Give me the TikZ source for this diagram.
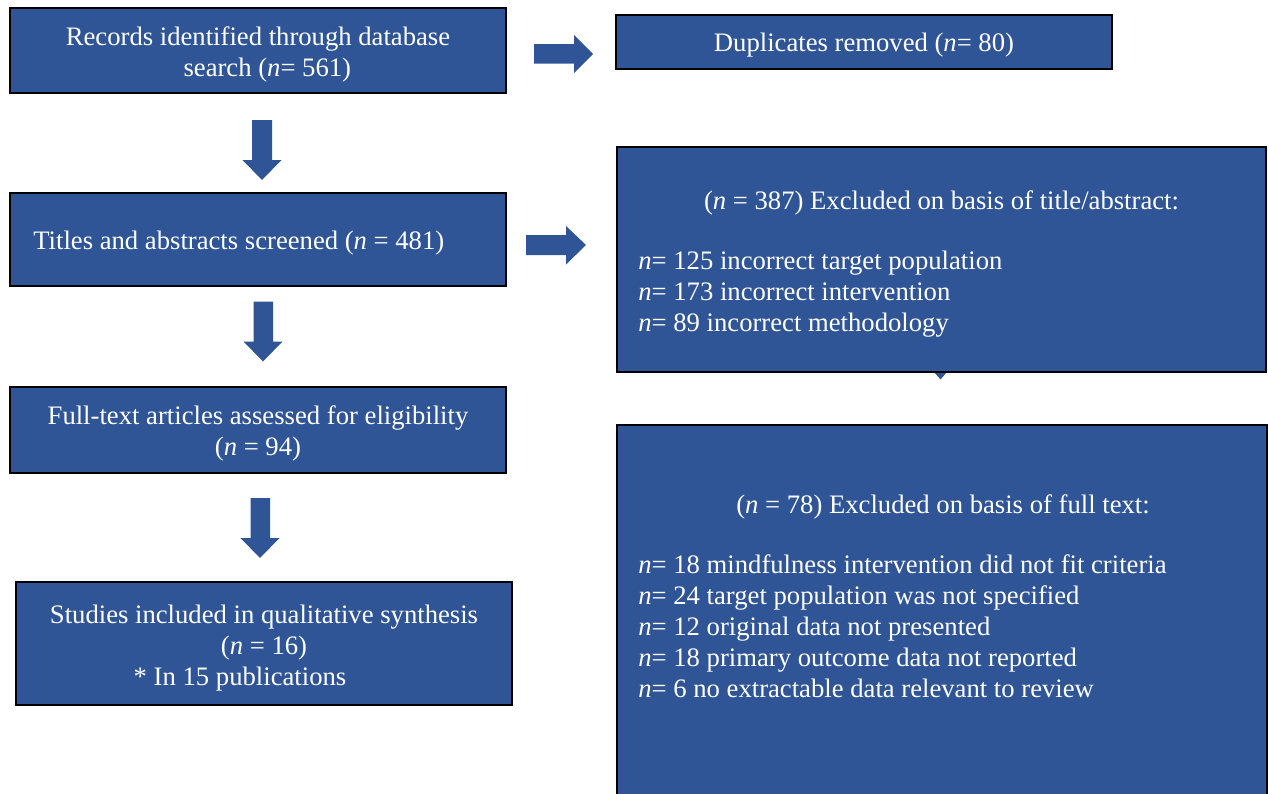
\documentclass[tikz,border=0pt]{standalone}
\usepackage{fontspec}
\setmainfont{Liberation Serif}
\definecolor{boxblue}{RGB}{47,85,151}

\tikzset{every picture/.style={line width=0.5pt}}
\tikzset{
  flowbox/.style={rectangle, draw=black, line width=1.7pt, fill=boxblue, inner sep=0pt},
  flowtext/.style={text=white, font=\fontsize{20}{23.25}\selectfont, inner sep=0pt},
  blockarrow/.style={fill=boxblue, draw=none},
}

\begin{document}
\begin{tikzpicture}[x=0.75pt,y=0.75pt,yscale=-1,xscale=1]
\useasboundingbox (0,0) rectangle (1268,793);

%Shape: Triangle (under the title/abstract box)
\draw [blockarrow] (934,372) -- (947,372) -- (940.5,379.5) -- cycle ;

%Shape: Rectangle (records)
\draw (258,50.5) node (records) [flowbox, minimum width=372pt, minimum height=63.75pt] {};
%Shape: Rectangle (duplicates)
\draw (864,42) node (duplicates) [flowbox, minimum width=372pt, minimum height=40.5pt] {};
%Shape: Rectangle (screened)
\draw (258,239.5) node (screened) [flowbox, minimum width=372pt, minimum height=69.75pt] {};
%Shape: Rectangle (excluded on title/abstract)
\draw (941.5,259.5) node (exclAbs) [flowbox, minimum width=486.75pt, minimum height=168.75pt] {};
%Shape: Rectangle (full text)
\draw (258,430) node (fulltext) [flowbox, minimum width=372pt, minimum height=64.5pt] {};
%Shape: Rectangle (excluded on full text)
\draw (942,617.5) node (exclFull) [flowbox, minimum width=487.5pt, minimum height=288.75pt] {};
%Shape: Rectangle (included)
\draw (264,643.5) node (included) [flowbox, minimum width=372pt, minimum height=92.25pt] {};

%Right Arrow
\draw [blockarrow] (534,44) -- (574,44) -- (574,35) -- (593,54) -- (574,73) -- (574,63.5) -- (534,63.5) -- cycle ;
%Down Arrow
\draw [blockarrow] (252,120) -- (272,120) -- (272,160) -- (281.5,160) -- (262,180) -- (242.5,160) -- (252,160) -- cycle ;
%Right Arrow
\draw [blockarrow] (526,235) -- (566,235) -- (566,226) -- (586,245) -- (566,264.5) -- (566,255) -- (526,255) -- cycle ;
%Down Arrow
\draw [blockarrow] (253.5,301.5) -- (273,301.5) -- (273,341.5) -- (282.5,341.5) -- (263,361.5) -- (243.5,341.5) -- (253.5,341.5) -- cycle ;
%Down Arrow
\draw [blockarrow] (250.5,498) -- (270,498) -- (270,538) -- (279.5,538) -- (260,558) -- (240.5,538) -- (250.5,538) -- cycle ;

% Text Node
\draw (258,54) node (recordsTxt) [flowtext, align=center] {Records identified through database\\\hspace*{14pt}search (\textit{n}= 561)};
% Text Node
\draw (864,45.5) node (duplicatesTxt) [flowtext] {Duplicates removed (\textit{n}= 80)};
% Text Node
\draw (33,243) node (screenedTxt) [flowtext, anchor=west] {Titles and abstracts screened (\textit{n} = 481)};
% Text Node
\draw (941.5,202.5) node (exclAbsHead) [flowtext] {(\textit{n} = 387) Excluded on basis of title/abstract:};
% Text Node
\draw (638,294.5) node (exclAbsList) [flowtext, anchor=west, align=left] {\textit{n}= 125 incorrect target population\\\textit{n}= 173 incorrect intervention\\\textit{n}= 89 incorrect methodology};
% Text Node
\draw (258,433.5) node (fulltextTxt) [flowtext, align=center] {Full-text articles assessed for eligibility\\(\textit{n} = 94)};
% Text Node
\draw (943,507) node (exclFullHead) [flowtext] {(\textit{n} = 78) Excluded on basis of full text:};
% Text Node
\draw (638,626.5) node (exclFullList) [flowtext, anchor=west, align=left] {\textit{n}= 18 mindfulness intervention did not fit criteria\\\textit{n}= 24 target population was not specified\\\textit{n}= 12 original data not presented\\\textit{n}= 18 primary outcome data not reported\\\textit{n}= 6 no extractable data relevant to review};
% Text Node
\draw (264,648) node (includedTxt) [flowtext, align=center] {Studies included in qualitative synthesis\\(\textit{n} = 16)\\* In 15 publications\hspace*{36pt}};

\end{tikzpicture}
\end{document}
